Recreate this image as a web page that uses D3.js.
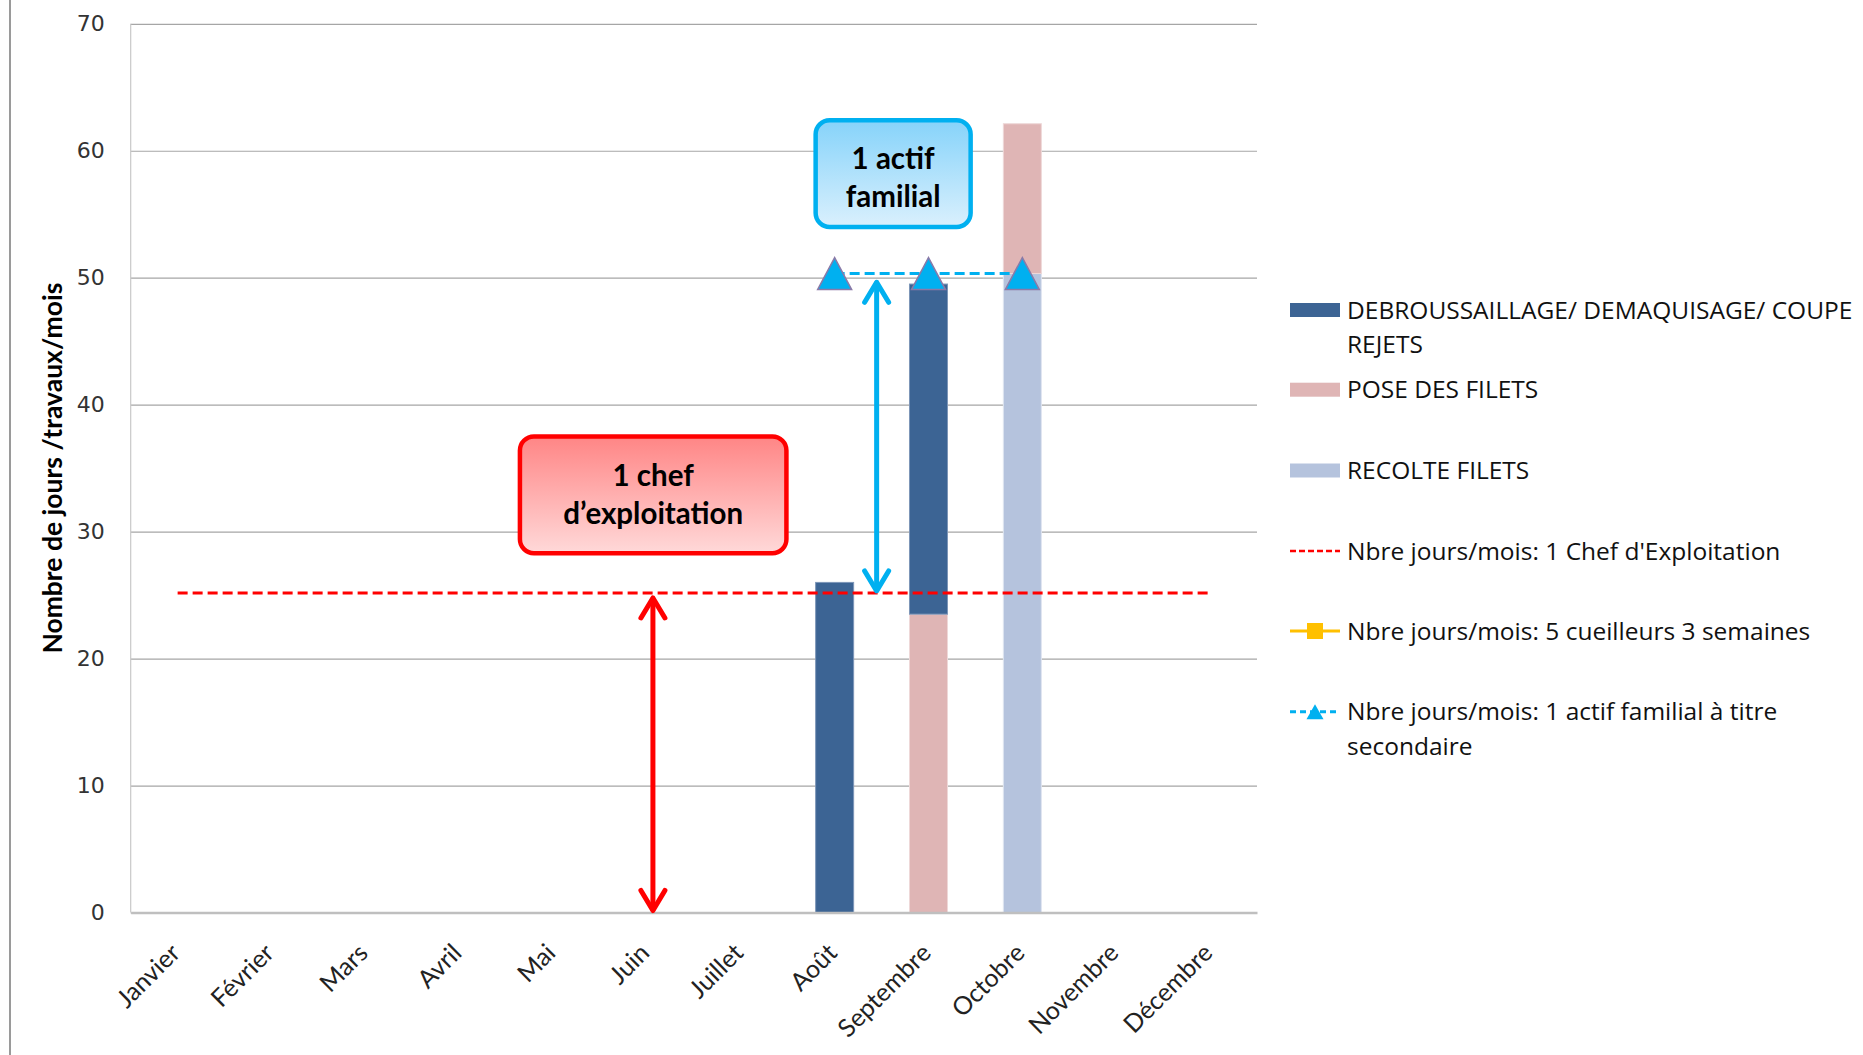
<!DOCTYPE html>
<html><head><meta charset="utf-8">
<script src="https://cdn.jsdelivr.net/npm/d3@7"></script>
<style>body{margin:0;background:#fff}svg{display:block}</style>
</head><body>
<svg id="c" width="1863" height="1055"></svg>
<script>
// ---------- data ----------
const months = ["Janvier","Février","Mars","Avril","Mai","Juin","Juillet","Août","Septembre","Octobre","Novembre","Décembre"];
const debroussaillage = [0,0,0,0,0,0,0,26,26,0,0,0];
const poseFilets      = [0,0,0,0,0,0,0,0,23.5,11.8,0,0];
const recolteFilets   = [0,0,0,0,0,0,0,0,0,50.33,0,0];
const chefExploitation = [25.17,25.17,25.17,25.17,25.17,25.17,25.17,25.17,25.17,25.17,25.17,25.17];
const cueilleurs = [null,null,null,null,null,null,null,null,null,null,null,null];
const actifFamilial = [null,null,null,null,null,null,null,50.33,50.33,50.33,null,null];
const yTicks = [0,10,20,30,40,50,60,70];
const seriesNames = ["DEBROUSSAILLAGE/ DEMAQUISAGE/ COUPE REJETS","POSE DES FILETS","RECOLTE FILETS",
  "Nbre jours/mois: 1 Chef d'Exploitation","Nbre jours/mois: 5 cueilleurs 3 semaines",
  "Nbre jours/mois: 1 actif familial à titre secondaire"];
const yTitle = "Nombre de jours /travaux/mois";
const boxChef = ["1 chef","d’exploitation"];
const boxActif = ["1 actif","familial"];

// ---------- layout ----------
const W = 1863, H = 1055;
const L = 130.7, R = 1257, T = 23.8, B = 912.5;
const svg = d3.select("#c");
const defs = svg.append("defs");

const colDeb = "#3C6494", colPose = "#DFB5B5", colRec = "#B5C3DD";
const colRed = "#FF0000", colBlue = "#00B0F0", colYel = "#FFC000";

const x = d3.scaleBand().domain(months).range([L, R]).paddingInner(0).paddingOuter(0);
const step = x.step();
const cx = m => x(m) + step / 2;
const barW = step * 0.405;
const y = d3.scaleLinear().domain([0, 70]).range([B, T]);

// left frame line
svg.append("line").attr("x1",10).attr("x2",10).attr("y1",0).attr("y2",H)
  .attr("stroke","#9a9a9a").attr("stroke-width",2);

// gridlines
const grid = svg.append("g").attr("transform",`translate(${L},0)`)
  .call(d3.axisLeft(y).tickValues(yTicks).tickSize(-(R-L)).tickFormat(""));
grid.select(".domain").remove();
grid.selectAll("line").attr("stroke","#a6a6a6").attr("stroke-width",1.2);
svg.append("line").attr("x1",L).attr("x2",L).attr("y1",T).attr("y2",B).attr("stroke","#c8c8c8").attr("stroke-width",1.2);

// y axis labels
const yAx = svg.append("g").attr("transform",`translate(${L},0)`)
  .call(d3.axisLeft(y).tickValues(yTicks).tickSize(0).tickPadding(26));
yAx.select(".domain").remove();
yAx.selectAll("text").attr("font-family","'DejaVu Sans', sans-serif").attr("font-size",22).attr("fill","#333");

// y title
svg.append("text").attr("transform",`translate(53,${(T+B)/2}) rotate(-90)`)
  .attr("text-anchor","middle").attr("dy","0.35em")
  .attr("font-family","Lato, sans-serif").attr("font-weight","bold").attr("font-size",26.5)
  .attr("fill","#000").text(yTitle);

// stacked bars (bottom -> top: recolte, pose, deb)
const table = months.map((m,i)=>({month:m, recolte:recolteFilets[i], pose:poseFilets[i], deb:debroussaillage[i]}));
const stack = d3.stack().keys(["recolte","pose","deb"])(table);
const colors = {recolte:colRec, pose:colPose, deb:colDeb};
const edge = {recolte:"#dfe5f0", pose:"#eed8d8", deb:"#7d96b8"};
stack.forEach(s=>{
  svg.append("g").selectAll("rect").data(s.filter(d=>d[1]-d[0]>0)).join("rect")
    .attr("x", d=>cx(d.data.month)-barW/2).attr("width",barW)
    .attr("y", d=>y(d[1])).attr("height", d=>y(d[0])-y(d[1]))
    .attr("fill", colors[s.key]).attr("stroke", edge[s.key]).attr("stroke-width",1);
});

// x axis
const xAx = svg.append("g").attr("transform",`translate(0,${B})`)
  .call(d3.axisBottom(x).tickSize(0).tickPadding(0));
xAx.select(".domain").attr("stroke","#bfbfbf").attr("stroke-width",2.5);
xAx.selectAll("text").attr("font-family","Lato, sans-serif").attr("font-size",25).attr("fill","#222")
  .attr("text-anchor","end").attr("dy",0).attr("y",0)
  .attr("transform","translate(4,42) rotate(-45)");

// chef line
const line = d3.line().defined(d=>d.v!=null).x(d=>cx(d.m)).y(d=>y(d.v));
svg.append("path").datum(months.map((m,i)=>({m, v:chefExploitation[i]})))
  .attr("d", line).attr("fill","none").attr("stroke",colRed).attr("stroke-width",3).attr("stroke-dasharray","10,5");

// cueilleurs (no values)
svg.append("path").datum(months.map((m,i)=>({m, v:cueilleurs[i]})))
  .attr("d", line).attr("fill","none").attr("stroke",colYel).attr("stroke-width",3);

// actif familial line
const actifData = months.map((m,i)=>({m, v:actifFamilial[i]}));
svg.append("path").datum(actifData)
  .attr("d", line).attr("fill","none").attr("stroke",colBlue).attr("stroke-width",3).attr("stroke-dasharray","10,5");
const tri = (w,h) => `M0,${-h/2}L${w/2},${h/2}L${-w/2},${h/2}Z`;
svg.append("g").selectAll("path").data(actifData.filter(d=>d.v!=null)).join("path")
  .attr("transform", d=>`translate(${cx(d.m)},${y(d.v)})`)
  .attr("d", tri(34,32)).attr("fill",colBlue).attr("stroke","#8a7aa8").attr("stroke-width",1.5);

// arrows
function arrow(x0, y0, y1, color){
  const g = svg.append("g").attr("stroke",color).attr("stroke-width",5).attr("fill","none")
    .attr("stroke-linecap","round").attr("stroke-linejoin","round");
  g.append("line").attr("x1",x0).attr("x2",x0).attr("y1",y0+3).attr("y2",y1-3);
  const dx = 12, dy = 22;
  g.append("path").attr("d",`M${x0-dx},${y0+dy}L${x0},${y0+2}L${x0+dx},${y0+dy}`);
  g.append("path").attr("d",`M${x0-dx},${y1-dy}L${x0},${y1-2}L${x0+dx},${y1-dy}`);
}
arrow(cx("Juin")+6, y(chefExploitation[5])+3, y(0), colRed);
arrow(cx("Août")+42, y(49.8), y(chefExploitation[7]), colBlue);

// annotation boxes
function gradient(id, c0, c1){
  const g = defs.append("linearGradient").attr("id",id).attr("x1",0).attr("x2",0).attr("y1",0).attr("y2",1);
  g.append("stop").attr("offset","0%").attr("stop-color",c0);
  g.append("stop").attr("offset","100%").attr("stop-color",c1);
}
gradient("gRed","#FF8585","#FFD9D9");
gradient("gBlue","#86D3FA","#DAF0FD");
function box(x0,x1,yTop,yBot,fill,stroke,lines,off){
  svg.append("rect").attr("x",x0).attr("y",yTop).attr("width",x1-x0).attr("height",yBot-yTop)
    .attr("rx",14).attr("fill",fill).attr("stroke",stroke).attr("stroke-width",4.5);
  const mid = (x0+x1)/2, ym = (yTop+yBot)/2 + off;
  lines.forEach((t,i)=>{
    svg.append("text").attr("x",mid).attr("y",ym + (i-0.5)*38).attr("dy","0.35em")
      .attr("text-anchor","middle").attr("font-family","Lato, sans-serif").attr("font-weight","bold")
      .attr("font-size",29.5).attr("fill","#000").text(t);
  });
}
box(cx("Juin")-127, cx("Juin")+139.5, y(37.5), y(28.3), "url(#gRed)", colRed, boxChef, 0);
box(cx("Août")-19, cx("Août")+136, y(62.4), y(54.0), "url(#gBlue)", colBlue, boxActif, 4);

// legend
const lg = svg.append("g").attr("font-family","'Open Sans', sans-serif").attr("font-size",24.5).attr("fill","#111");
const lx0 = 1290, lx1 = 1340, tx = 1347;
const legendY = [310, 389.7, 470.5, 551, 631, 711.7];
const wrapLines = [["DEBROUSSAILLAGE/ DEMAQUISAGE/ COUPE","REJETS"],["POSE DES FILETS"],["RECOLTE FILETS"],
  ["Nbre jours/mois: 1 Chef d'Exploitation"],["Nbre jours/mois: 5 cueilleurs 3 semaines"],
  ["Nbre jours/mois: 1 actif familial à titre","secondaire"]];
[colDeb,colPose,colRec].forEach((c,i)=>{
  lg.append("rect").attr("x",lx0).attr("y",legendY[i]-7).attr("width",lx1-lx0).attr("height",14).attr("fill",c);
});
lg.append("line").attr("x1",lx0).attr("x2",lx1).attr("y1",legendY[3]).attr("y2",legendY[3])
  .attr("stroke",colRed).attr("stroke-width",2.5).attr("stroke-dasharray","6,3");
lg.append("line").attr("x1",lx0).attr("x2",lx1).attr("y1",legendY[4]).attr("y2",legendY[4])
  .attr("stroke",colYel).attr("stroke-width",3);
lg.append("rect").attr("x",(lx0+lx1)/2-8).attr("y",legendY[4]-8).attr("width",16).attr("height",16).attr("fill",colYel);
lg.append("line").attr("x1",lx0).attr("x2",lx1).attr("y1",legendY[5]).attr("y2",legendY[5])
  .attr("stroke",colBlue).attr("stroke-width",3).attr("stroke-dasharray","6,4");
lg.append("path").attr("transform",`translate(${(lx0+lx1)/2},${legendY[5]})`).attr("d",tri(17,15)).attr("fill",colBlue);
wrapLines.forEach((ls,i)=>{
  ls.forEach((t,j)=>{
    lg.append("text").attr("x",tx).attr("y",legendY[i]+j*34.6).attr("dy","0.35em").text(t);
  });
});
</script>
</body></html>
